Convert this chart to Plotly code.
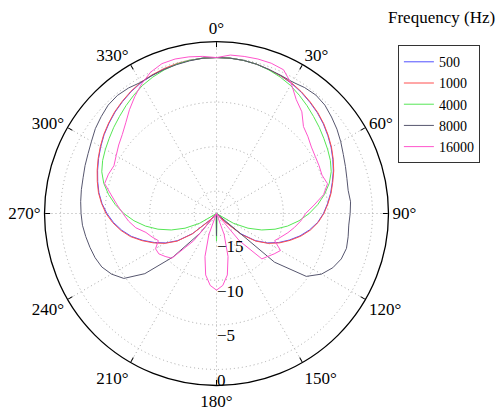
import plotly.graph_objects as go

# ---------------- data (dB) ----------------
THETA = list(range(0, 360, 5))  # degrees, clockwise from top

FREQ_LABELS = ["500", "1000", "4000", "8000", "16000"]

R_500 = [0.0, 0.0, -0.05, -0.15, -0.3, -0.45, -0.65, -0.9, -1.2, -1.5,
         -1.85, -2.25, -2.65, -3.1, -3.55, -4.05, -4.5, -5.0, -5.5, -6.1,
         -6.9, -7.8, -8.8, -9.8, -10.9, -12.2, -14.0, -16.5,
         -17.5, -17.5, -17.5, -17.5, -17.5, -17.5, -17.5, -17.5, -17.5,
         -17.5, -17.5, -17.5, -17.5, -17.5, -17.5, -17.5, -17.5,
         -16.5, -14.0, -12.2, -10.9, -9.8, -8.7, -7.6, -6.7, -5.9, -5.2,
         -4.6, -4.1, -3.7, -3.3, -2.9, -2.5, -2.1, -1.75, -1.4, -1.1,
         -0.8, -0.55, -0.4, -0.25, -0.15, -0.05, 0.0]

R_1000 = [0.0, 0.0, -0.05, -0.15, -0.3, -0.45, -0.6, -0.85, -1.15, -1.45,
          -1.8, -2.2, -2.6, -3.05, -3.5, -4.0, -4.45, -4.95, -5.45, -6.05,
          -6.8, -7.7, -8.7, -9.7, -10.8, -12.1, -13.8, -16.2,
          -17.5, -17.5, -17.5, -17.5, -17.5, -17.5, -17.5, -17.5, -17.5,
          -17.5, -17.5, -17.5, -17.5, -17.5, -17.5, -17.5, -17.5,
          -16.3, -13.9, -12.1, -10.8, -9.7, -8.6, -7.5, -6.6, -5.8, -5.1,
          -4.55, -4.05, -3.65, -3.25, -2.85, -2.45, -2.05, -1.7, -1.35, -1.05,
          -0.75, -0.5, -0.35, -0.2, -0.1, -0.05, 0.0]

R_4000 = [0.0, 0.0, -0.05, -0.15, -0.35, -0.6, -0.9, -1.3, -1.7, -2.1,
          -2.45, -2.8, -3.1, -3.4, -3.8, -4.4, -5.2, -6.1, -7.1, -8.2,
          -9.4, -10.7, -12.1, -13.6, -15.3,
          -17.5, -17.5, -17.5, -17.5, -17.5, -17.5, -17.5, -17.5, -17.5, -17.5,
          -16.8, -14.4, -16.8,
          -17.5, -17.5, -17.5, -17.5, -17.5, -17.5, -17.5, -17.5, -17.5, -17.5,
          -15.3, -13.6, -12.1, -10.7, -9.4, -8.2, -7.1, -6.1, -5.2, -4.4,
          -3.8, -3.4, -3.1, -2.8, -2.45, -2.1, -1.7, -1.3, -0.9, -0.6,
          -0.35, -0.15, -0.05, 0.0]

R_8000 = [0.0, 0.0, -0.05, -0.15, -0.3, -0.4, -0.45, -0.25, -0.15, -0.3,
          -0.65, -1.0, -1.4, -1.8, -2.1, -2.35, -2.5, -2.4, -2.5, -2.6,
          -2.5, -2.4, -2.6, -3.1, -3.9, -5.2, -9.0, -17.5,
          -17.5, -17.5, -17.5, -17.5, -17.5, -17.5, -17.5,
          -17.5, -15.0, -17.5,
          -17.5, -17.5, -17.5, -17.5, -17.5, -17.5,
          -14.6, -10.6, -7.0, -4.8, -3.9, -3.3, -3.0, -2.8, -2.6, -2.4,
          -2.3, -2.2, -2.1, -2.0, -1.8, -1.6, -1.3, -0.9, -0.6, -0.3,
          -0.2, -0.3, -0.5, -0.4, -0.3, -0.2, -0.1, 0.0]

R_16000 = [0.0, 0.35, 0.4, 0.45, 0.45, 0.3, -0.7, -1.9, -2.6, -3.7,
           -4.1, -4.5, -4.7, -4.8, -4.9, -4.6, -5.3, -6.5, -7.5, -8.0,
           -8.6, -9.2, -9.8, -10.3, -9.2, -9.6, -10.0, -10.3, -13.5, -17.5,
           -17.5, -17.5, -15.0, -12.5, -10.5, -9.4, -8.9, -9.4, -10.5, -12.5,
           -15.0, -17.5, -17.5, -17.5, -13.5, -10.4, -10.0, -9.6, -9.6, -10.3,
           -9.8, -9.3, -8.3, -7.6, -7.0, -6.3, -5.5, -4.5, -4.6, -4.8,
           -4.5, -4.1, -3.7, -3.1, -2.3, -1.5, -0.7, 0.0, 0.4, 0.45,
           0.35, 0.2]

SERIES = [R_500, R_1000, R_4000, R_8000, R_16000]
COLORS = ["#5050ff", "#ff4f4f", "#55e655", "#56566e", "#ff55cc"]

ANGLE_TICKS = list(range(0, 360, 30))
ANGLE_TEXT = [f"{a}°" for a in ANGLE_TICKS]
R_TICKS = [-15, -10, -5, 0]
R_TEXT = ["<br>\u221215", "<br>\u221210", "<br>\u22125", "<br>0"]
R_RANGE = [-17.5, 1.8]

LEGEND_TITLE = "Frequency (Hz)"

# ---------------- figure ----------------
fig = go.Figure()
for name, vals, color in zip(FREQ_LABELS, SERIES, COLORS):
    fig.add_trace(go.Scatterpolar(
        r=vals + [vals[0]], theta=THETA + [360], mode="lines", name=name,
        line=dict(color=color, width=1)))

FONT = "Liberation Serif, Times New Roman, serif"
GRID = "#a8a8a8"
DOTS = "1px,3px"

fig.update_layout(
    width=498, height=411,
    margin=dict(l=0, r=0, t=0, b=0),
    paper_bgcolor="white",
    font=dict(family=FONT, size=17, color="black"),
    showlegend=True,
    polar=dict(
        domain=dict(x=[0.0894, 0.7801], y=[0.062, 0.899]),
        bgcolor="white",
        angularaxis=dict(
            rotation=90, direction="clockwise",
            tickmode="array", tickvals=ANGLE_TICKS, ticktext=ANGLE_TEXT,
            showline=True, linecolor="black", linewidth=1.3,
            ticks="inside", ticklen=5, tickcolor="black",
            gridcolor=GRID, griddash=DOTS, gridwidth=1,
            tickfont=dict(family=FONT, size=17, color="black"),
        ),
        radialaxis=dict(
            range=R_RANGE, tickmode="array", tickvals=R_TICKS, ticktext=R_TEXT,
            angle=-90, side="counterclockwise", tickangle=-90,
            showline=False, ticks="",
            gridcolor=GRID, griddash=DOTS, gridwidth=1,
            tickfont=dict(family=FONT, size=17, color="black"),
        ),
    ),
    legend=dict(
        x=0.799, y=0.89, xanchor="left", yanchor="top",
        bordercolor="#333333", borderwidth=1, bgcolor="white",
        font=dict(family=FONT, size=14, color="black"),
    ),
    annotations=[dict(
        text=LEGEND_TITLE, xref="paper", yref="paper",
        x=0.886, y=0.985, xanchor="center", yanchor="top",
        showarrow=False, font=dict(family=FONT, size=17, color="black"))],
)

fig.write_html("out.html", config={"displayModeBar": False},
               post_script="document.body.style.margin='0';")
